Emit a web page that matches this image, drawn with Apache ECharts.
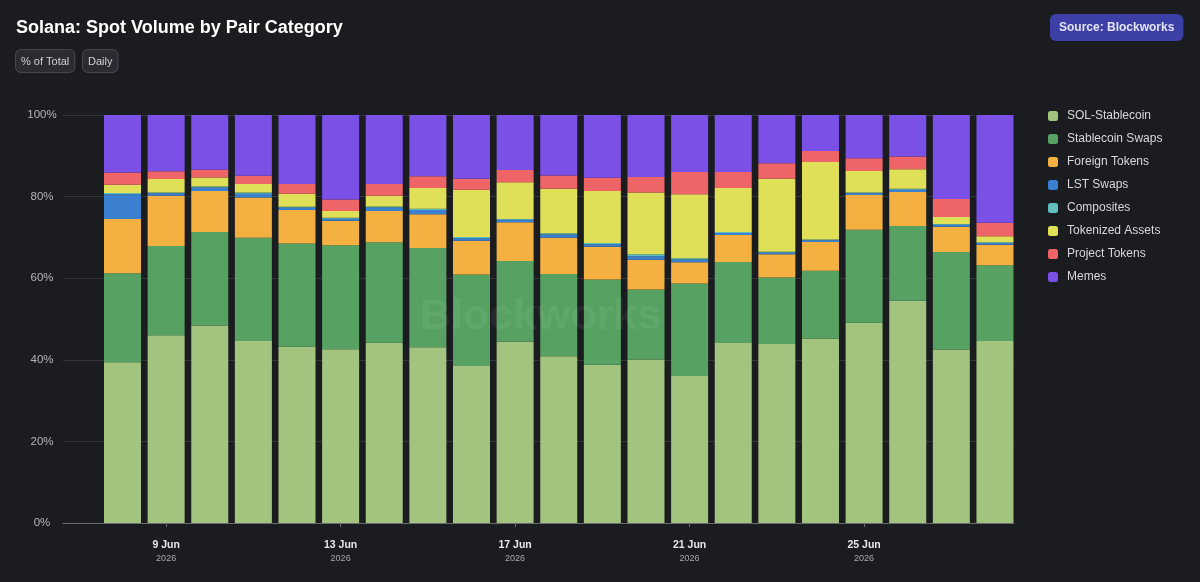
<!DOCTYPE html>
<html>
<head>
<meta charset="utf-8">
<script src="https://cdn.jsdelivr.net/npm/echarts@6/dist/echarts.min.js"></script>
<style>
  html, body { margin: 0; padding: 0; background: #1b1c20; }
  #chart { width: 1200px; height: 582px; }
</style>
</head>
<body>
<div id="chart"></div>
<script>
// days of June 2026 shown, 8 Jun .. 28 Jun
var days = [8, 9, 10, 11, 12, 13, 14, 15, 16, 17, 18, 19, 20, 21, 22, 23, 24, 25, 26, 27, 28];

var solStable   = [39.4, 46.0, 48.4, 44.6, 43.2, 42.6, 44.2, 43.1, 38.5, 44.4, 40.9, 38.8, 40.1, 36.0, 44.1, 43.9, 45.2, 49.1, 54.5, 42.5, 44.6];
var stableSwaps = [21.8, 21.9, 22.9, 25.3, 25.3, 25.5, 24.6, 24.3, 22.4, 19.8, 20.1, 20.9, 17.1, 22.7, 19.9, 16.3, 16.6, 22.8, 18.3, 23.9, 18.6];
var foreign     = [13.3, 12.3, 10.1, 9.9, 8.2, 6.0, 7.7, 8.3, 8.3, 9.5, 8.9, 8.0, 7.3, 5.2, 6.6, 5.7, 7.1, 8.5, 8.3, 6.2, 5.0];
var lstSwaps    = [6.1, 0.6, 0.8, 0.9, 0.6, 0.5, 0.8, 1.0, 0.6, 0.6, 0.8, 0.6, 0.9, 0.7, 0.5, 0.4, 0.4, 0.4, 0.6, 0.5, 0.4];
var composites  = [0.3, 0.2, 0.3, 0.3, 0.2, 0.2, 0.3, 0.3, 0.3, 0.2, 0.3, 0.3, 0.5, 0.3, 0.2, 0.2, 0.2, 0.2, 0.2, 0.2, 0.2];
var tokenized   = [2.0, 3.3, 2.2, 2.1, 3.2, 1.7, 2.6, 5.1, 11.6, 9.0, 10.9, 12.8, 15.1, 15.7, 10.8, 17.9, 19.0, 5.3, 4.8, 1.7, 1.5];
var project     = [3.0, 1.9, 1.9, 2.0, 2.4, 2.8, 2.9, 2.9, 2.7, 3.0, 3.3, 3.2, 3.8, 5.4, 3.9, 3.8, 2.7, 3.1, 3.1, 4.4, 3.3];
var memes       = [14.1, 13.8, 13.4, 14.9, 16.9, 20.7, 16.9, 15.0, 15.6, 13.5, 14.8, 15.4, 15.2, 14.0, 14.0, 11.8, 8.8, 10.6, 10.2, 20.6, 26.4];

var seriesNames  = ['SOL-Stablecoin', 'Stablecoin Swaps', 'Foreign Tokens', 'LST Swaps', 'Composites', 'Tokenized Assets', 'Project Tokens', 'Memes'];
var seriesValues = [solStable, stableSwaps, foreign, lstSwaps, composites, tokenized, project, memes];
var colors = ['#a3c47f', '#57a262', '#f4b142', '#3a7fd0', '#5fbfbf', '#e0e058', '#ef6567', '#7a50e6'];

var DAY = 86400000;
var months = ['Jan','Feb','Mar','Apr','May','Jun','Jul','Aug','Sep','Oct','Nov','Dec'];
function ts(d) { return Date.UTC(2026, 5, d); }
var FONT = '"Liberation Sans", Arial, sans-serif';

var series = [];
for (var s = 0; s < seriesNames.length; s++) {
  var data = [];
  for (var i = 0; i < days.length; i++) {
    data.push([ts(days[i]), seriesValues[s][i]]);
  }
  series.push({
    name: seriesNames[s],
    type: 'bar',
    stack: 'total',
    barWidth: 37,
    itemStyle: { color: colors[s] },
    emphasis: { disabled: true },
    data: data
  });
}

var btn = function (left, top, label) {
  return {
    type: 'text', left: left, top: top,
    style: {
      text: label, fill: '#d0d0d4', font: '11px ' + FONT,
      backgroundColor: '#2b2c31', borderColor: '#46474d', borderWidth: 1,
      borderRadius: 5, padding: [6, 5, 5, 5]
    }
  };
};

var option = {
  backgroundColor: '#1b1c20',
  animation: false,
  useUTC: true,
  color: colors,
  title: {
    text: 'Solana: Spot Volume by Pair Category',
    left: 16, top: 19, padding: 0,
    textStyle: { color: '#ffffff', fontSize: 18, fontWeight: 'bold', fontFamily: FONT }
  },
  graphic: [
    btn(15, 49, '% of Total'),
    btn(82, 49, 'Daily'),
    {
      type: 'text', left: 1050, top: 14,
      style: {
        text: 'Source: Blockworks', fill: '#e4e4f4',
        font: 'bold 12px ' + FONT,
        backgroundColor: '#3b3fa6', borderRadius: 6, padding: [8, 9, 7, 9]
      }
    },
    {
      type: 'text', left: 420, top: 296, z: 100, silent: true,
      style: {
        text: 'Blockworks', fill: 'rgba(255,255,255,0.06)',
        font: 'bold 43px ' + FONT
      }
    }
  ],
  legend: {
    orient: 'vertical',
    left: 1048, top: 110, padding: 0,
    itemWidth: 10, itemHeight: 10, itemGap: 11,
    icon: 'roundRect',
    textStyle: { color: '#d8d8dc', fontSize: 12, fontFamily: FONT, padding: [0, 0, 0, 4] },
    data: seriesNames
  },
  grid: { left: 63, right: 186, top: 115, bottom: 59 },
  xAxis: {
    type: 'time',
    // the bar shapes widen the extent by about half a bar on each side
    min: ts(8) - 0.94 * DAY,
    max: ts(28) + 0.012 * DAY,
    splitNumber: 5,
    axisLine: { show: true, lineStyle: { color: '#6a6b70' } },
    axisTick: { show: true, length: 4, lineStyle: { color: '#6a6b70' } },
    splitLine: { show: false },
    axisLabel: {
      margin: 15,
      hideOverlap: false,
      showMinLabel: false,
      showMaxLabel: false,
      formatter: function (v) {
        var d = new Date(v);
        return '{a|' + d.getUTCDate() + ' ' + months[d.getUTCMonth()] + '}\n{b|' + d.getUTCFullYear() + '}';
      },
      rich: {
        a: { color: '#e8e8ea', fontSize: 10.5, fontWeight: 'bold', lineHeight: 14, fontFamily: FONT },
        b: { color: '#a8a8ae', fontSize: 9, lineHeight: 14, fontFamily: FONT }
      }
    }
  },
  yAxis: {
    type: 'value',
    min: 0, max: 100, interval: 20,
    axisLine: { show: false },
    axisTick: { show: false },
    axisLabel: { formatter: '{value}%', color: '#b4b4b8', fontSize: 11.5, align: 'center', margin: 21, fontFamily: FONT },
    splitLine: { lineStyle: { color: '#34353a' } }
  },
  series: series
};

var chart = echarts.init(document.getElementById('chart'));
chart.setOption(option);
</script>
</body>
</html>
